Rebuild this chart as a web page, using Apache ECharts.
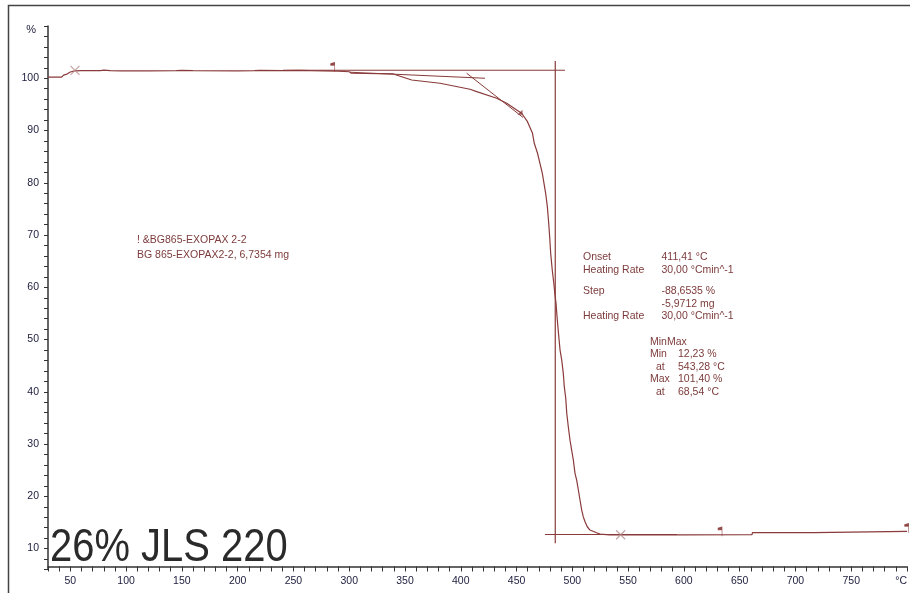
<!DOCTYPE html>
<html>
<head>
<meta charset="utf-8">
<script src="https://cdn.jsdelivr.net/npm/echarts@6/dist/echarts.min.js"></script>
<style>
html,body{margin:0;padding:0;background:#fff;}
#chart{width:910px;height:593px;}
</style>
</head>
<body>
<div id="chart"></div>
<script>
// ---- data ----
const tempC = [30, 42, 44, 47, 50, 54, 60, 77, 80, 86, 95, 120, 145, 150, 160, 200, 215, 220, 240, 255, 265, 290, 300, 302,
  339.5, 356, 381.4, 408.3, 414.3, 432.2, 441.2, 450.1, 454.6, 459.8, 464.3, 465.9, 468.8, 471.0, 473.1, 474.6, 476.1,
  477.6, 478.6, 479.7, 480.6, 482.0, 483.4, 484.3, 485.4, 486.3, 487.6, 489.0, 490.5, 491.9, 492.8, 494.1, 495.0, 496.4,
  497.9, 499.4, 500.9, 502.4, 503.9, 505.4, 506.9, 508.4, 509.8, 511.4, 513.4, 515.8, 521.8, 524.8, 533.7, 543.3, 594,
  661, 661.5, 716, 716.5, 800];
const massPct = [100.2, 100.2, 100.6, 100.8, 101.2, 101.4, 101.45, 101.45, 101.55, 101.45, 101.4, 101.4, 101.45, 101.5,
  101.45, 101.4, 101.45, 101.5, 101.45, 101.5, 101.45, 101.35, 101.25, 100.96,
  100.82, 99.67, 99.04, 97.89, 97.44, 96.17, 95.22, 93.93, 93.30, 91.69, 89.47, 87.56, 85.65, 83.73, 81.82, 79.90, 77.99,
  75.43, 72.88, 69.68, 66.51, 63.31, 60.77, 58.85, 56.94, 54.37, 51.20, 47.98, 46.06, 43.54, 40.98, 38.76, 35.89, 33.32,
  30.78, 28.86, 26.95, 24.40, 23.12, 21.21, 19.30, 17.38, 16.10, 15.14, 14.18, 13.55, 13.03, 12.78, 12.62, 12.6, 12.62,
  12.65, 13.05, 13.05, 13.3, 13.3];

// evaluation lines (temperature, mass %)
const baselineTop = [[240.6, 101.53], [493.4, 101.53]];
const baselineSlope = [[300.7, 101.15], [421.7, 100.0]];
const inflectionTangent = [[405.3, 100.96], [455.8, 92.5]];
const midpointLine = [[484.7, 103.3], [484.7, 11.0]];
const baselineBottom = [[475.5, 12.7], [593.8, 12.7]];

// markers
const minMaxMarks = [[54.2, 101.5], [543.3, 12.65]];
const limitFlags = [[285.2, 101.53], [632.4, 12.65], [799.7, 13.3]];
const stepMark = [[453.1, 93.3]];

// tick labels
const xLabelEvery = 50;
const yLabelEvery = 10;
const xUnit = '°C';
const yUnit = '%';

// annotation texts
const sampleText = ['! &BG865-EXOPAX 2-2', 'BG 865-EXOPAX2-2, 6,7354 mg'];
const evalNames = ['Onset', 'Heating Rate', 'Step', 'Heating Rate'];
const evalValues = ['411,41 °C', '30,00 °Cmin^-1', '-88,6535 %', '-5,9712 mg', '30,00 °Cmin^-1'];
const minMaxText = ['MinMax', 'Min', 'Max'];
const minMaxAt = ['at', 'at'];
const minMaxValues = ['12,23 %', '543,28 °C', '101,40 %', '68,54 °C'];
const bigTitle = '26% JLS 220';

// ---- chart ----
const curveColor = '#8a3a3a';
const textColor = '#7d3b3b';
const labelColor = '#1c1c3c';
const axisColor = '#333333';
const fontFam = '"Liberation Sans", Arial, sans-serif';

const curveData = tempC.map((t, i) => [t, massPct[i]]);

function lineSeries(data, w) {
  return {
    type: 'line', data: data, showSymbol: false, silent: true,
    lineStyle: { color: curveColor, width: w || 1 }, z: 3, animation: false
  };
}

const txt = (text, x, y, size) => ({
  type: 'text', x: x, y: y, silent: true,
  style: { text: text, fill: textColor, font: (size || 10.5) + 'px ' + fontFam, verticalAlign: 'middle', align: 'left' }
});

const graphics = [
  { type: 'rect', shape: { x: 8.5, y: 5.5, width: 920, height: 620 }, style: { fill: 'none', stroke: '#444', lineWidth: 1.5 }, silent: true, z: -1 },
  { type: 'text', x: 50, y: 548, scaleX: 0.85, silent: true,
    style: { text: bigTitle, fill: '#2a2a2a', font: '47px ' + fontFam, verticalAlign: 'middle', align: 'left' } },
  txt(sampleText[0], 137, 240.5), txt(sampleText[1], 137, 255.5),
  txt(evalNames[0], 583, 257.5), txt(evalNames[1], 583, 270), txt(evalNames[2], 583, 291), txt(evalNames[3], 583, 316.5),
  txt(evalValues[0], 661.5, 257.5), txt(evalValues[1], 661.5, 270), txt(evalValues[2], 661.5, 291),
  txt(evalValues[3], 661.5, 304), txt(evalValues[4], 661.5, 316.5),
  txt(minMaxText[0], 650, 342), txt(minMaxText[1], 650, 354.5), txt(minMaxText[2], 650, 379.5),
  txt(minMaxAt[0], 656, 367), txt(minMaxAt[1], 656, 392),
  txt(minMaxValues[0], 678, 354.5), txt(minMaxValues[1], 678, 367), txt(minMaxValues[2], 678, 379.5), txt(minMaxValues[3], 678, 392)
];

const option = {
  animation: false,
  backgroundColor: '#ffffff',
  grid: { left: 48, right: 3, top: 26, bottom: 23.5, containLabel: false },
  xAxis: {
    type: 'value', min: 30, max: 800, interval: 10, offset: -3,
    axisLine: { show: true, onZero: false, lineStyle: { color: axisColor, width: 1.5 } },
    axisTick: { show: true, length: 5, lineStyle: { color: axisColor, width: 1 } },
    splitLine: { show: false },
    axisLabel: {
      color: labelColor, fontSize: 10.5, fontFamily: fontFam, margin: 9, alignMaxLabel: 'right',
      formatter: v => { const r = Math.round(v); if (r === 800) return xUnit; return r % xLabelEvery === 0 ? String(r) : ''; }
    }
  },
  yAxis: {
    type: 'value', min: 6, max: 110, interval: 2,
    name: yUnit, nameLocation: 'end', nameGap: -4,
    nameTextStyle: { color: labelColor, fontSize: 11, fontFamily: fontFam, align: 'right', verticalAlign: 'middle', padding: [0, 12, 0, 0] },
    axisLine: { show: true, onZero: false, lineStyle: { color: axisColor, width: 1.5 } },
    axisTick: { show: true, length: 4, lineStyle: { color: axisColor, width: 1 } },
    splitLine: { show: false },
    axisLabel: {
      color: labelColor, fontSize: 10.5, fontFamily: fontFam, margin: 9,
      formatter: v => { const r = Math.round(v); return (r % yLabelEvery === 0 && r <= 100) ? String(r) : ''; }
    }
  },
  series: [
    lineSeries(curveData, 1.2),
    lineSeries(baselineTop, 1.2),
    lineSeries(baselineSlope, 1),
    lineSeries(inflectionTangent, 1),
    lineSeries(midpointLine, 1.2),
    lineSeries(baselineBottom, 1.2),
    {
      type: 'scatter', data: minMaxMarks, symbol: 'path://M0,0L10,10M10,0L0,10', symbolSize: 9, silent: true, z: 4,
      itemStyle: { color: 'none', borderColor: '#b88c8c', borderWidth: 1.2 }
    },
    {
      type: 'scatter', data: limitFlags, symbol: 'path://M3,0L3,10M3,0L0,1.2L0,2.4L3,2.4Z', symbolSize: [4, 9], symbolOffset: [0, -3], silent: true, z: 4,
      itemStyle: { color: curveColor, borderColor: curveColor, borderWidth: 1 }
    },
    {
      type: 'scatter', data: stepMark, symbol: 'path://M10,0L10,10L0,10Z', symbolSize: 5, symbolOffset: [0, -1], silent: true, z: 4,
      itemStyle: { color: curveColor }
    }
  ],
  graphic: graphics
};

const chart = echarts.init(document.getElementById('chart'), null, { renderer: 'canvas' });
chart.setOption(option);
</script>
</body>
</html>
